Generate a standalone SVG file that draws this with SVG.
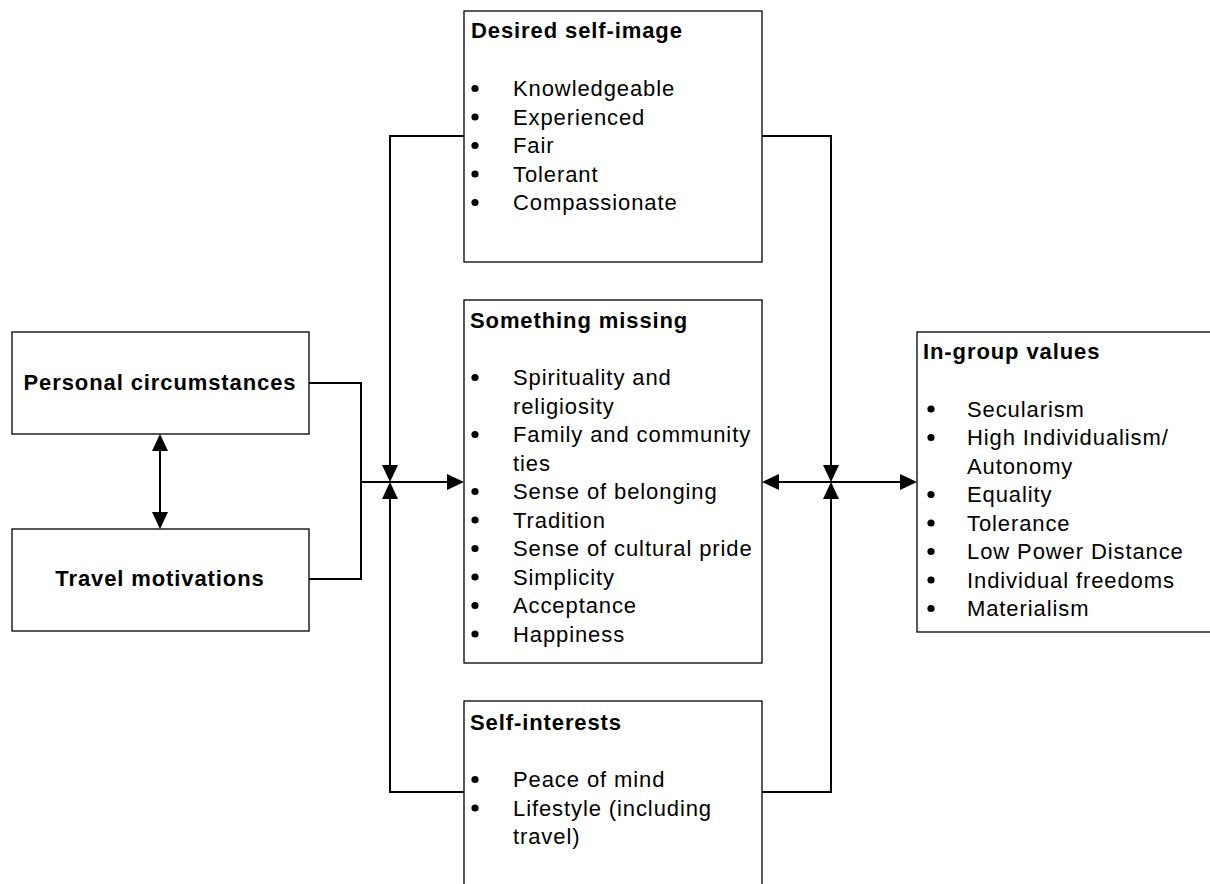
<svg xmlns="http://www.w3.org/2000/svg" width="1210" height="884" viewBox="0 0 1210 884">
  <style>
    .box { fill: #ffffff; stroke: #000000; stroke-width: 1.3; }
    .conn { fill: none; stroke: #000000; stroke-width: 2; }
    text { font-family: "Liberation Sans", Arial, Helvetica, sans-serif; font-size: 22px; fill: #000000; letter-spacing: 0.9px; }
    .head { font-weight: bold; }
    .mid { text-anchor: middle; }
    .dot { fill: #000000; }
  </style>
  <defs>
    <marker id="arrow" viewBox="0 0 17 16" refX="15" refY="8" markerWidth="17" markerHeight="16" markerUnits="userSpaceOnUse" orient="auto-start-reverse">
      <path d="M0,0 L17,8 L0,16 Z" fill="#000000"/>
    </marker>
  </defs>

  <rect width="1210" height="884" fill="#ffffff"/>

  <!-- connectors -->
  <g id="connectors">
    <path class="conn" d="M309,383 H361 V579 H309"/>
    <path class="conn" d="M361,482 H462" marker-end="url(#arrow)"/>
    <path class="conn" d="M160,436 V527" marker-start="url(#arrow)" marker-end="url(#arrow)"/>
    <path class="conn" d="M464,136 H390 V480" marker-end="url(#arrow)"/>
    <path class="conn" d="M464,792 H390 V484" marker-end="url(#arrow)"/>
    <path class="conn" d="M762,136 H831 V480" marker-end="url(#arrow)"/>
    <path class="conn" d="M762,792 H831 V484" marker-end="url(#arrow)"/>
    <path class="conn" d="M764,482 H915" marker-start="url(#arrow)" marker-end="url(#arrow)"/>
  </g>

  <!-- left-hand inputs -->
  <g id="personal-circumstances">
    <rect class="box" x="12" y="332" width="297" height="102"/>
    <text class="head mid" x="160" y="390">Personal circumstances</text>
  </g>
  <g id="travel-motivations">
    <rect class="box" x="12" y="529" width="297" height="102"/>
    <text class="head mid" x="160" y="586">Travel motivations</text>
  </g>

  <!-- central column -->
  <g id="desired-self-image">
    <rect class="box" x="464" y="11" width="298" height="251"/>
    <text class="head" x="471" y="38">Desired self-image</text>
    <circle class="dot" cx="475" cy="88.5" r="3.6"/><text x="513" y="96">Knowledgeable</text>
    <circle class="dot" cx="475" cy="117" r="3.6"/><text x="513" y="124.5">Experienced</text>
    <circle class="dot" cx="475" cy="145.5" r="3.6"/><text x="513" y="153">Fair</text>
    <circle class="dot" cx="475" cy="174" r="3.6"/><text x="513" y="181.5">Tolerant</text>
    <circle class="dot" cx="475" cy="202.5" r="3.6"/><text x="513" y="210">Compassionate</text>
  </g>

  <g id="something-missing">
    <rect class="box" x="464" y="300" width="298" height="363"/>
    <text class="head" x="470" y="328">Something missing</text>
    <circle class="dot" cx="475" cy="377.5" r="3.6"/><text x="513" y="385">Spirituality and</text>
    <text x="513" y="413.5">religiosity</text>
    <circle class="dot" cx="475" cy="434.5" r="3.6"/><text x="513" y="442">Family and community</text>
    <text x="513" y="470.5">ties</text>
    <circle class="dot" cx="475" cy="491.5" r="3.6"/><text x="513" y="499">Sense of belonging</text>
    <circle class="dot" cx="475" cy="520" r="3.6"/><text x="513" y="527.5">Tradition</text>
    <circle class="dot" cx="475" cy="548.5" r="3.6"/><text x="513" y="556">Sense of cultural pride</text>
    <circle class="dot" cx="475" cy="577" r="3.6"/><text x="513" y="584.5">Simplicity</text>
    <circle class="dot" cx="475" cy="605.5" r="3.6"/><text x="513" y="613">Acceptance</text>
    <circle class="dot" cx="475" cy="634" r="3.6"/><text x="513" y="641.5">Happiness</text>
  </g>

  <g id="self-interests">
    <rect class="box" x="464" y="701" width="298" height="200"/>
    <text class="head" x="470" y="730">Self-interests</text>
    <circle class="dot" cx="475" cy="779.5" r="3.6"/><text x="513" y="787">Peace of mind</text>
    <circle class="dot" cx="475" cy="808" r="3.6"/><text x="513" y="815.5">Lifestyle (including</text>
    <text x="513" y="844">travel)</text>
  </g>

  <!-- right-hand values -->
  <g id="in-group-values">
    <rect class="box" x="917" y="332" width="310" height="300"/>
    <text class="head" x="923" y="359">In-group values</text>
    <circle class="dot" cx="931" cy="409" r="3.6"/><text x="967" y="416.5">Secularism</text>
    <circle class="dot" cx="931" cy="437.5" r="3.6"/><text x="967" y="445">High Individualism/</text>
    <text x="967" y="473.5">Autonomy</text>
    <circle class="dot" cx="931" cy="494.5" r="3.6"/><text x="967" y="502">Equality</text>
    <circle class="dot" cx="931" cy="523" r="3.6"/><text x="967" y="530.5">Tolerance</text>
    <circle class="dot" cx="931" cy="551.5" r="3.6"/><text x="967" y="559">Low Power Distance</text>
    <circle class="dot" cx="931" cy="580" r="3.6"/><text x="967" y="587.5">Individual freedoms</text>
    <circle class="dot" cx="931" cy="608.5" r="3.6"/><text x="967" y="616">Materialism</text>
  </g>
</svg>
